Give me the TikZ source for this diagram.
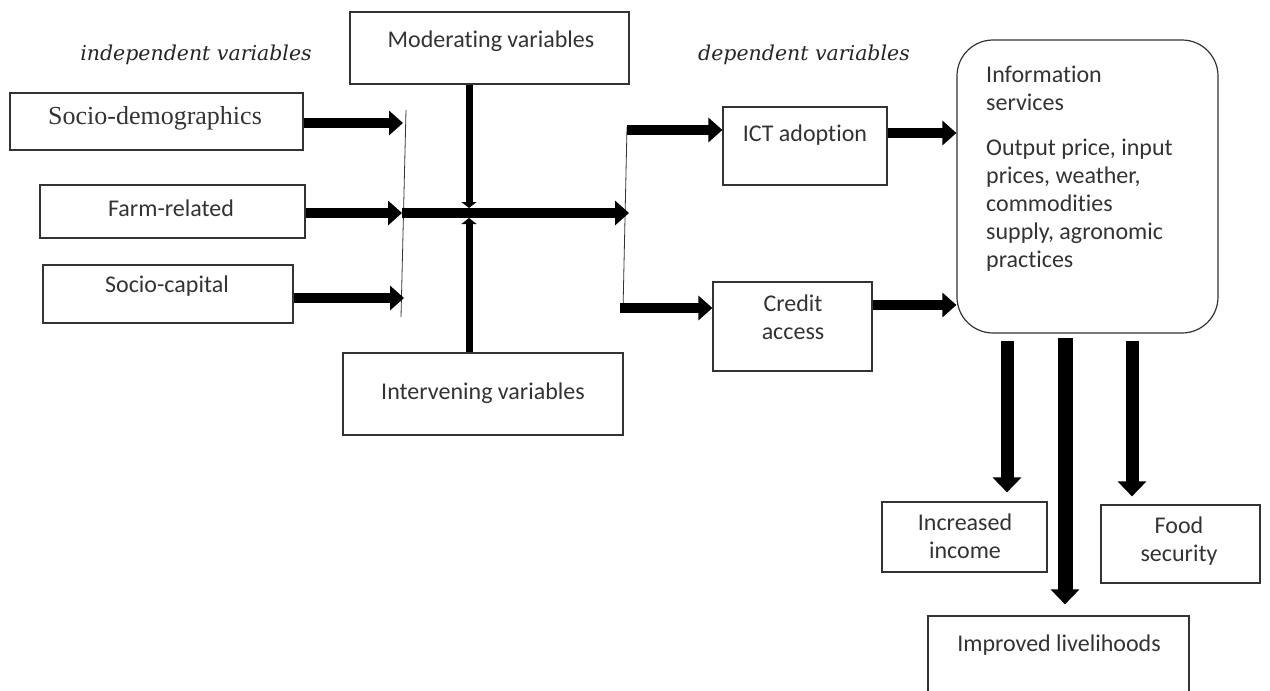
\documentclass[tikz,border=0pt]{standalone}
\usepackage{fontspec}
\setmainfont{Carlito}[Ligatures={NoCommon}]
\newfontfamily\tnr{Liberation Serif}
\newfontfamily\itfont{DejaVu Serif}
\usetikzlibrary{arrows.meta,calc}
\begin{document}
\begin{tikzpicture}[x=1pt,y=-1pt,
  box/.style={draw=black!80, line width=1.2pt, inner sep=0pt},
  txt/.style={font=\fontsize{24}{28}\selectfont, text=black!80, inner sep=0pt, align=center},
  ital/.style={font=\itfont\itshape\fontsize{20.5}{24}\selectfont, text=black!85, inner sep=0pt},
  fat/.style={line width=10pt, -{Triangle[width=24pt,length=14pt]}},
  fatv/.style={line width=13pt, -{Triangle[width=28pt,length=15pt]}},
  mid/.style={line width=7pt, -{Triangle[width=15pt,length=6pt]}},
  thin/.style={line width=0.8pt, black!80}
]
\useasboundingbox (0,0) rectangle (1270,691);

% boxes
\node[box, minimum width=293, minimum height=57] (sd) at (156.5,121.5) {};
\node[box, minimum width=265, minimum height=53] (fr) at (172.5,211.5) {};
\node[box, minimum width=250, minimum height=58] (sc) at (168,294) {};
\node[box, minimum width=279, minimum height=72] (mod) at (489.5,48) {};
\node[box, minimum width=280, minimum height=82] (int) at (483,394) {};
\node[box, minimum width=164, minimum height=78] (ict) at (805,146) {};
\node[box, minimum width=159, minimum height=89] (cr) at (792.5,326.5) {};
\node[box, rounded corners=36, minimum width=261, minimum height=293] (info) at (1087.5,186.5) {};
\node[box, minimum width=165, minimum height=70] (inc) at (964.5,537) {};
\node[box, minimum width=159, minimum height=78] (food) at (1180.5,544) {};
\node[box, minimum width=261, minimum height=120] (imp) at (1058.5,676) {};

% texts
\node[ital] (indep) at (196,55) {independent variables};
\node[ital] (dep) at (804,55) {dependent variables};
\node[txt, font=\tnr\fontsize{26}{30}\selectfont] (sdT) at (155,118) {Socio-demographics};
\node[txt] (frT) at (171,208) {Farm-related};
\node[txt] (scT) at (167,286) {Socio-capital};
\node[txt] (modT) at (491,41) {Moderating variables};
\node[txt] (intT) at (483,393) {Intervening variables};
\node[txt] (ictT) at (805,135) {ICT adoption};
\node[txt] (crT) at (793,317) {Credit\\access};
\node[txt] (incT) at (965,536) {Increased\\income};
\node[txt] (foodT) at (1179,541) {Food\\security};
\node[txt] (impT) at (1059,645) {Improved livelihoods};
\node[txt, align=left, anchor=north west] (infoT) at (986,66)
  {Information\\services\\[17pt]Output price, input\\prices, weather,\\commodities\\supply, agronomic\\practices};

% junction lines
\coordinate (jLt) at (406,110);
\coordinate (jLb) at (401,317);
\coordinate (jRt) at (627,127);
\coordinate (jRb) at (623,310);
\draw[thin] (jLt) -- (jLb);
\draw[thin] (jRt) -- (jRb);
\coordinate (hub) at (469,213);
\coordinate (fork) at (629,213);

% arrows from independent variables
\draw[fat] (sd.east |- 0,123) -- (403,123);
\draw[fat] (sc.east |- 0,298) -- (404,298);
\draw[fat] (fr.east |- 0,213) -- (402,213);
\draw[fat] (402,213) -- (fork);

% moderating / intervening
\draw[mid] (mod.south -| hub) -- ($(hub)+(0,-5)$);
\draw[mid] (int.north -| hub) -- ($(hub)+(0,5)$);

% to dependent variables
\draw[fat] (627,130) -- (ict.west |- 0,130);
\draw[fat] (620,308) -- (cr.west |- 0,308);

% to information services
\draw[fat] (ict.east |- 0,133) -- (info.west |- 0,133);
\draw[fat] (cr.east |- 0,305) -- (info.west |- 0,305);

% outcomes
\draw[fatv] ($(info.south)+(-80.5,7)$) -- ($(info.south |- inc.north)+(-80.5,-9)$);
\draw[fatv, line width=15pt] ($(info.south)+(-22.5,4)$) -- ($(info.south |- imp.north)+(-22.5,-11)$);
\draw[fatv] ($(info.south)+(44.5,7)$) -- ($(info.south |- food.north)+(44.5,-8)$);
\end{tikzpicture}
\end{document}
